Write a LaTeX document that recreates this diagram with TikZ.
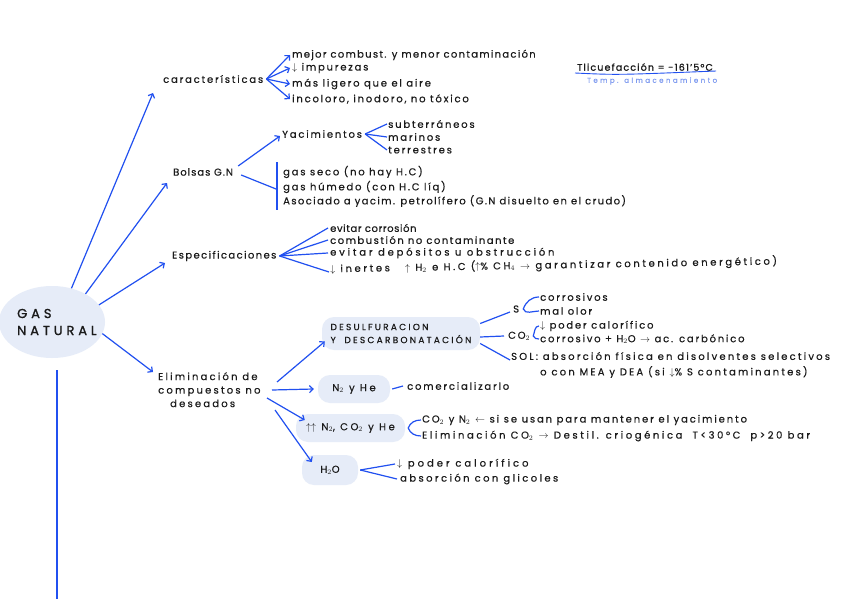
\documentclass[tikz,border=0pt]{standalone}
\usepackage{fontspec}
\setmainfont{Poppins}[LetterSpace=18,FakeBold=0.5]
\newfontfamily\gnfont{Poppins}[LetterSpace=30,FakeBold=1.2]
\usetikzlibrary{arrows.meta,shapes.geometric}
\definecolor{lb}{HTML}{2150F0}
\definecolor{bx}{HTML}{E6ECF8}
\definecolor{tb}{HTML}{7F9BF0}
\definecolor{ink}{HTML}{1A1A1A}
\newcommand\ls[1]{\fontsize{10}{11}\selectfont\addfontfeature{LetterSpace=#1}}
\begin{document}
\begin{tikzpicture}[x=1pt,y=-1pt,
  t/.style={anchor=west,inner sep=0pt,font=\fontsize{10}{11}\selectfont,text=ink},
  arr/.style={draw=lb,line width=1.2pt,-{Straight Barb[length=3.5pt,width=7pt]}},
  ln/.style={draw=lb,line width=1.2pt},
  bxs/.style={fill=bx,rounded corners=12pt,inner sep=0pt,text=ink,font=\fontsize{10}{13}\selectfont\addfontfeature{LetterSpace=26}},
  blob/.style={ellipse,fill=bx,minimum width=106pt,minimum height=72pt,inner sep=0pt}]
\useasboundingbox[fill=white] (0,0) rectangle (848,599);
% central
\node[blob] (gn) at (52,322) {};
\node[anchor=west,inner sep=0pt,align=left,font=\gnfont\fontsize{13}{17}\selectfont,text=ink] (gnt) at (17,322) {GAS\\NATURAL};
\draw[draw=lb,line width=2.6pt] ([xshift=5pt,yshift=-12pt]gn.south) coordinate (vt) -- (vt |- 0,599) coordinate (vb);
% level 1
\node[t,font=\ls{18}] (car) at (163,79) {características};
\node[t,font=\ls{10}] (bol) at (173,172) {Bolsas G.N};
\node[t,font=\ls{14}] (esp) at (172,256) {Especificaciones};
\node[anchor=north west,inner sep=0pt,align=left,font=\fontsize{10}{13.5}\selectfont\addfontfeature{LetterSpace=22},text=ink] (eli) at (158,372) {Eliminación de\\compuestos no\\\hspace*{12pt}deseados};
\draw[arr] (gn.60) -- ([xshift=-10pt,yshift=-14pt]car.west);
\draw[arr] (gn.40) -- ([xshift=-6pt,yshift=-11pt]bol.west);
\draw[arr] (gn.20) -- ([xshift=-7pt,yshift=-7pt]esp.west);
\draw[arr] (gn.-13) -- ([xshift=-5pt]eli.north west);
% caracteristicas
\node[t,font=\ls{13}] (c1) at (292,55) {mejor combust. y menor contaminación};
\node[t] (c2) at (292,68) {$\downarrow$ impurezas};
\node[t] (c3) at (292,84) {más ligero que el aire};
\node[t] (c4) at (292,99) {incoloro, inodoro, no tóxico};
\foreach \c in {c1,c2,c3,c4} \draw[arr] ([xshift=3pt]car.east) -- ([xshift=-2pt]\c.west);
% T licuefaccion
\node[t,font=\fontsize{9.5}{10}\selectfont\addfontfeature{LetterSpace=12,FakeBold=1}] (tl) at (577,67) {Tlicuefacción = -161'5°C};
\draw[ln,line width=0.9pt] ([xshift=-2pt,yshift=-6pt]tl.west) .. controls ([xshift=40pt,yshift=-8pt]tl.west) .. ([xshift=3pt,yshift=-4pt]tl.east);
\node[t,text=tb,font=\fontsize{7}{8}\selectfont\addfontfeature{LetterSpace=35}] (tm) at (587,81) {Temp. almacenamiento};
% bolsas
\node[t] (yac) at (282,134) {Yacimientos};
\node[t] (y1) at (388,124) {subterráneos};
\node[t] (y2) at (388,137) {marinos};
\node[t] (y3) at (388,150) {terrestres};
\draw[arr] ([xshift=5pt,yshift=6pt]bol.east) -- ([xshift=-2pt,yshift=-2pt]yac.west);
\foreach \c in {y1,y2,y3} \draw[ln] ([xshift=3pt]yac.east) -- ([xshift=-1pt]\c.west);
\node[t] (b1) at (283,172) {gas seco (no hay H.C)};
\node[t] (b2) at (283,187) {gas húmedo (con H.C líq)};
\node[t,font=\ls{14}] (b3) at (283,201) {Asociado a yacim. petrolífero (G.N disuelto en el crudo)};
\draw[ln] ([xshift=-6pt,yshift=10pt]b1.west) -- ([xshift=-6pt,yshift=-9pt]b3.west);
\draw[ln] ([xshift=8pt,yshift=-3pt]bol.east) -- ([xshift=-7pt,yshift=-17pt]b1.west);
% especificaciones
\node[t,font=\ls{6}] (e1) at (330,228) {evitar corrosión};
\node[t,font=\ls{15}] (e2) at (330,240) {combustión no contaminante};
\node[t,font=\ls{28}] (e3) at (330,253) {evitar depósitos u obstrucción};
\node[t,rotate=1,font=\ls{26}] (e4) at (330,269) {$\downarrow$ inertes\quad\ $\uparrow$ H$_2$ e H.C ($\uparrow$\% CH$_4$ $\rightarrow$ garantizar contenido energético)};
\foreach \c in {e1,e2,e3} \draw[ln] ([xshift=3pt]esp.east) -- ([xshift=-2pt]\c.west);
\draw[ln] ([xshift=3pt]esp.east) -- ([xshift=-1pt,yshift=-3pt]e4.west);
% eliminacion
\node[bxs,minimum width=158pt,minimum height=33pt,align=left,font=\fontsize{9}{13}\selectfont\addfontfeature{LetterSpace=25}] (ds) at (401,333.5) {DESULFURACION\\Y\hspace{4pt} DESCARBONATACIÓN};
\node[bxs,minimum width=72pt,minimum height=28pt] (n2) at (354,389) {N$_2$ y He};
\node[bxs,minimum width=109pt,minimum height=28pt] (nc) at (350.5,428) {$\uparrow\uparrow$ N$_2$, CO$_2$ y He};
\node[bxs,minimum width=56pt,minimum height=30pt] (h2o) at (330,470) {H$_2$O};
\draw[arr] ([xshift=119pt,yshift=-10pt]eli.north west) -- ([xshift=3pt,yshift=-8pt]ds.west);
\draw[arr] ([xshift=114pt,yshift=-18pt]eli.north west) -- ([xshift=-4pt]n2.west);
\draw[arr] ([xshift=109pt,yshift=-26pt]eli.north west) -- ([xshift=9pt,yshift=8pt]nc.west);
\draw[arr] ([xshift=117pt,yshift=-38pt]eli.north west) -- ([xshift=10pt,yshift=8pt]h2o.west);
% desulfuracion branches
\node[t] (s) at (513,309) {S};
\node[t] (sc1) at (540,297) {corrosivos};
\node[t] (sc2) at (540,311) {mal olor};
\draw[ln] ([yshift=10pt]ds.east) -- ([xshift=-3pt,yshift=-3pt]s.west);
\draw[ln] ([xshift=-1pt]sc1.west) to[out=180,in=70] ([xshift=4pt]s.east) to[out=-70,in=180] ([xshift=-1pt]sc2.west);
\node[t] (co) at (508,336) {CO$_2$};
\node[t] (cc1) at (540,326) {$\downarrow$ poder calorífico};
\node[t] (cc2) at (540,339) {corrosivo + H$_2$O $\rightarrow$ ac. carbónico};
\draw[ln] ([yshift=-3.5pt]ds.east) -- ([xshift=-4pt]co.west);
\draw[ln] ([xshift=-1pt]cc1.west) to[out=180,in=70] ([xshift=3pt]co.east) to[out=-70,in=180] ([xshift=-1pt]cc2.west);
\node[t,font=\ls{22}] (sol) at (511,356) {SOL: absorción física en disolventes selectivos};
\node[t,font=\ls{22}] (sol2) at (540,372) {o con MEA y DEA (si $\downarrow$\% S contaminantes)};
\draw[ln] ([yshift=-10pt]ds.east) -- ([xshift=-1pt,yshift=-4pt]sol.west);
% N2 y He
\node[t] (com) at (407,386) {comercializarlo};
\draw[ln] ([xshift=2pt]n2.east) -- ([xshift=-4pt]com.west);
% N2 CO2 He
\node[t,font=\ls{19}] (nc1) at (422,420) {CO$_2$ y N$_2$ $\leftarrow$ si se usan para mantener el yacimiento};
\node[t,font=\ls{26}] (nc2) at (422,436) {Eliminación CO$_2$ $\rightarrow$ Destil. criogénica\quad T<30°C\quad p>20 bar};
\draw[ln] ([xshift=-1pt]nc1.west) to[out=180,in=70] ([xshift=3pt]nc.east) to[out=-70,in=180] ([xshift=-1pt]nc2.west);
% H2O
\node[t,font=\ls{30}] (h1) at (397,464) {$\downarrow$ poder calorífico};
\node[t,font=\ls{24}] (h2) at (400,479) {absorción con glicoles};
\draw[ln] ([xshift=2pt]h2o.east) -- ([xshift=-2pt]h1.west);
\draw[ln] ([xshift=2pt]h2o.east) -- ([xshift=-3pt]h2.west);
\end{tikzpicture}
\end{document}
